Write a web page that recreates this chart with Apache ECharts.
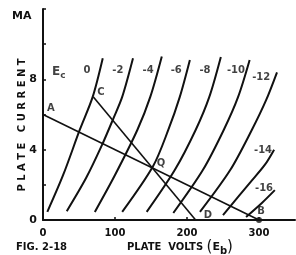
<!DOCTYPE html>
<html>
<head>
<meta charset="utf-8">
<script src="https://cdn.jsdelivr.net/npm/echarts@6/dist/echarts.min.js"></script>
<style>
html,body{margin:0;padding:0;background:#fff}
#chart{width:296px;height:255px}
</style>
</head>
<body>
<div id="chart"></div>
<script>
// plate characteristic curves, [plate volts, plate mA]
var gridBias = ['0', '-2', '-4', '-6', '-8', '-10', '-12', '-14', '-16'];
var curve0 = [[6, 0.46], [28, 2.56], [51, 5.12], [69, 7.0], [83, 9.2]];
var curve2 = [[33, 0.5], [60, 2.4], [82, 4.27], [98, 5.8], [110, 7.0], [125, 9.2]];
var curve4 = [[72, 0.46], [100, 2.56], [131, 5.12], [149, 7.0], [165, 9.3]];
var curve6 = [[110, 0.46], [153, 3.07], [174, 5.12], [190, 7.0], [204, 9.1]];
var curve8 = [[144, 0.46], [183, 2.84], [212, 5.12], [231, 7.0], [247, 9.27]];
var curve10 = [[181, 0.4], [222, 2.84], [251, 5.12], [271, 7.0], [287, 9.1]];
var curve12 = [[218, 0.46], [260, 2.84], [290, 5.12], [310, 6.83], [325, 8.4]];
var curve14 = [[250, 0.28], [287, 2.1], [308, 3.13], [321, 4.0]];
var curve16 = [[282, 0.17], [304, 0.97], [322, 1.7]];
var curves = [curve0, curve2, curve4, curve6, curve8, curve10, curve12, curve14, curve16];

// load lines
var lineAB = [[0, 6], [300, 0]];
var lineCD = [[70, 7], [212, 0]];

var xTicks = [0, 100, 200, 300];
var yTicks = [0, 4, 8];

// text placed in data space
var biasLabelPos = [[61, 8.53], [104, 8.48], [146, 8.48], [185, 8.48], [225, 8.48], [268, 8.53], [303, 8.13], [305.6, 3.98], [307, 1.82]];
var pointNames = ['A', 'C', 'Q', 'D', 'B'];
var pointLabelPos = [[11, 6.37], [80.6, 7.28], [164, 3.24], [229, 0.28], [303, 0.51]];

var font = 'DejaVu Sans';
var ink = '#111';

var series = [];
curves.forEach(function (c, i) {
    series.push({
        type: 'line', name: 'Ec ' + gridBias[i], data: c, showSymbol: false, smooth: 0.3,
        lineStyle: { color: ink, width: 2 }, silent: true
    });
});
series.push({ type: 'line', data: lineAB, showSymbol: false, lineStyle: { color: ink, width: 1.6 } });
series.push({ type: 'line', data: lineCD, showSymbol: false, lineStyle: { color: ink, width: 1.6 } });

var labelData = [{ value: [22, 8.42], name: '{e|E}{s|c}' }];
biasLabelPos.forEach(function (p, i) { labelData.push({ value: p, name: gridBias[i] }); });
pointLabelPos.forEach(function (p, i) { labelData.push({ value: p, name: pointNames[i] }); });
series.push({
    type: 'scatter', data: labelData, symbolSize: 1, itemStyle: { color: 'rgba(0,0,0,0)' },
    label: {
        show: true, position: 'inside', formatter: '{b}', color: ink,
        fontFamily: font, fontWeight: 'bold', fontSize: 10,
        rich: {
            e: { fontFamily: font, fontWeight: 'bold', fontSize: 12, color: ink },
            s: { fontFamily: font, fontWeight: 'bold', fontSize: 9, color: ink, padding: [8, 0, 0, 0] }
        }
    }
});
// dot at B
series.push({ type: 'scatter', data: [lineAB[1]], symbolSize: 6, itemStyle: { color: ink } });

var myChart = echarts.init(document.getElementById('chart'));
myChart.setOption({
    animation: false,
    grid: { left: 43, right: 1, top: 9, bottom: 35 },
    xAxis: {
        type: 'value', min: 0, max: 350, interval: 100,
        splitLine: { show: false },
        axisLine: { lineStyle: { color: ink, width: 2 } },
        axisTick: { inside: true, length: 3, lineStyle: { color: ink, width: 1.5 } },
        axisLabel: {
            showMaxLabel: false, margin: 8, color: ink, fontFamily: font, fontWeight: 'bold', fontSize: 10,
            formatter: function (v) { return xTicks.indexOf(v) > -1 ? String(v) : ''; }
        }
    },
    yAxis: {
        type: 'value', min: 0, max: 12, interval: 2,
        splitLine: { show: false },
        axisLine: { lineStyle: { color: ink, width: 2 } },
        axisTick: { inside: true, length: 3, lineStyle: { color: ink, width: 1.5 } },
        axisLabel: {
            margin: 6, color: ink, fontFamily: font, fontWeight: 'bold', fontSize: 11,
            formatter: function (v) { return yTicks.indexOf(v) > -1 ? String(v) : ''; }
        }
    },
    graphic: [
        { type: 'text', left: 12, top: 11, style: { text: 'MA', font: 'bold 11px ' + font, fill: ink } },
        { type: 'text', x: 22, y: 125, rotation: Math.PI / 2,
          style: { text: 'P L A T E   C U R R E N T', font: 'bold 10px ' + font, fill: ink, align: 'center', verticalAlign: 'middle' } },
        { type: 'text', left: 16, top: 242, style: { text: 'FIG. 2-18', font: 'bold 10px ' + font, fill: ink } },
        { type: 'text', left: 127, top: 240,
          style: { text: '{t|PLATE  VOLTS }{p|(}{e|E}{s|b}{p|)}', fill: ink,
            rich: {
                t: { font: 'bold 10px ' + font, fill: ink },
                p: { font: '15px ' + font, fill: ink },
                e: { font: 'bold 11px ' + font, fill: ink },
                s: { font: 'bold 10px ' + font, fill: ink, padding: [7, 0, 0, 0] }
            } } }
    ],
    series: series
});
</script>
</body>
</html>
